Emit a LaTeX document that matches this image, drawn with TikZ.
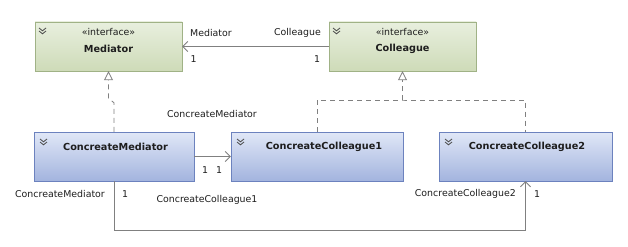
\documentclass[tikz,border=0pt]{standalone}
\usepackage{fontspec}
\setmainfont{DejaVu Sans}
\usetikzlibrary{arrows.meta,calc}

\definecolor{ifaceTop}{RGB}{232,239,222}
\definecolor{ifaceBot}{RGB}{206,219,184}
\definecolor{ifaceLine}{RGB}{160,178,134}
\definecolor{clsTop}{RGB}{224,231,247}
\definecolor{clsBot}{RGB}{163,180,222}
\definecolor{clsLine}{RGB}{108,130,190}
\definecolor{wire}{RGB}{128,128,128}
\definecolor{ink}{RGB}{30,30,30}

\tikzset{
  ifacebox/.style={draw=ifaceLine, top color=ifaceTop, bottom color=ifaceBot,
    rectangle, inner sep=0pt},
  clsbox/.style={draw=clsLine, top color=clsTop, bottom color=clsBot,
    rectangle, inner sep=0pt},
  lbl/.style={text=ink, font=\fontsize{9.4}{11}\selectfont, inner sep=0pt},
  title/.style={text=ink, font=\fontsize{9.7}{11}\selectfont\bfseries, inner sep=0pt},
  assoc/.style={draw=wire, line width=0.8pt, -{Straight Barb[length=5pt,width=10pt,line width=0.8pt]}},
  realize/.style={draw=wire, line width=0.8pt, dash pattern=on 5pt off 4pt},
  realtip/.style={realize, -{Triangle[open,length=9pt,width=9pt,line width=0.8pt,fill=white]}},
  chev/.style={draw=ink!80, line width=0.8pt},
}

% small double chevron used as the compartment toggle
\newcommand{\togglemark}[1]{%
  \draw[chev] ($(#1)+(0,0)$) -- ++(3.5,2.8) -- ++(3.5,-2.8);
  \draw[chev] ($(#1)+(0,3)$) -- ++(3.5,2.8) -- ++(3.5,-2.8);
}

\begin{document}
\begin{tikzpicture}[x=1pt,y=-1pt]
\useasboundingbox[fill=white] (0,0) rectangle (628,246);

% interfaces
\node[ifacebox, minimum width=147pt, minimum height=49pt] (med) at (108.5,46.5) {};
\node[ifacebox, minimum width=147pt, minimum height=49pt] (col) at (402.5,46.5) {};
\node[lbl] (medst) at (108.5,32) {«interface»};
\node[title] (medname) at (108.5,49) {Mediator};
\node[lbl] (colst) at (402.5,32) {«interface»};
\node[title] (colname) at (402.5,49) {Colleague};
\coordinate (medtg) at (39,28);
\coordinate (coltg) at (333,28);
\togglemark{medtg}
\togglemark{coltg}

% concrete classes
\node[clsbox, minimum width=160pt, minimum height=49pt] (cm) at (114,156.5) {};
\node[clsbox, minimum width=172pt, minimum height=49pt] (cc1) at (317,156.5) {};
\node[clsbox, minimum width=173pt, minimum height=49pt] (cc2) at (525.5,156.5) {};
\node[title] (cmname) at (115.5,147) {ConcreateMediator};
\node[title] (cc1name) at (324,147) {ConcreateColleague1};
\node[title] (cc2name) at (527,147) {ConcreateColleague2};
\coordinate (cmtg) at (40,139);
\coordinate (cc1tg) at (237,139);
\coordinate (cc2tg) at (445,139);
\togglemark{cmtg}
\togglemark{cc1tg}
\togglemark{cc2tg}

% Colleague -> Mediator association
\draw[assoc] (col.west) -- (med.east);
\node[lbl, anchor=west] (l1) at (190,33) {Mediator};
\node[lbl] (l2) at (193.5,59) {1};
\node[lbl, anchor=east] (l3) at (321,33) {Colleague};
\node[lbl] (l4) at (317,59) {1};

% ConcreateMediator realizes Mediator
\draw[realtip] (cm.north) -- ($(cm.north)+(0,-29)$) -- ($(med.south)+(0,27)$) -- (med.south);

% concrete colleagues realize Colleague
\coordinate (join) at (402.5,100);
\draw[realize] (cc1.north) |- (join) -| (cc2.north);
\draw[realtip] (join) -- (col.south);
\node[lbl] (l5) at (212,114) {ConcreateMediator};

% ConcreateMediator -> ConcreateColleague1
\draw[assoc] (cm.east) -- (cc1.west);
\node[lbl] (l6) at (205,170) {1};
\node[lbl] (l7) at (219,170) {1};

% ConcreateMediator -> ConcreateColleague2
\coordinate (bend) at ($(cm.south)+(0,49)$);
\draw[assoc] (cm.south) -- (bend) -| (cc2.south);
\node[lbl, anchor=east] (l8) at (105,194) {ConcreateMediator};
\node[lbl] (l9) at (125,194) {1};
\node[lbl] (l10) at (207,200) {ConcreateColleague1};
\node[lbl, anchor=east] (l11) at (516,194) {ConcreateColleague2};
\node[lbl] (l12) at (537,194) {1};
\end{tikzpicture}
\end{document}
